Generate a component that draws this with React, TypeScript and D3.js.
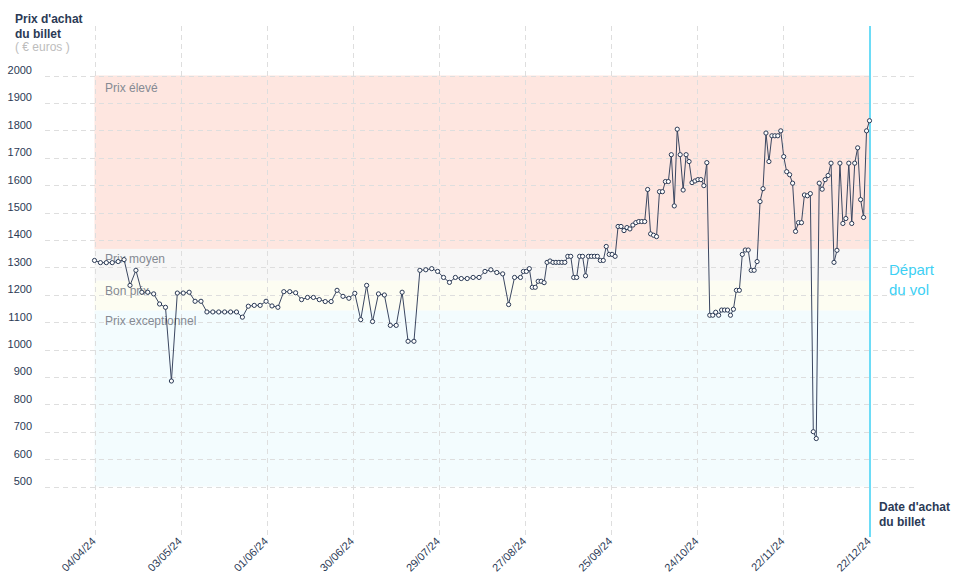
import React from 'react';
import * as d3 from 'd3';

const dates: string[] = [
  '2024-04-04','2024-04-06','2024-04-08','2024-04-10','2024-04-12','2024-04-14','2024-04-16','2024-04-18','2024-04-20','2024-04-22',
  '2024-04-24','2024-04-26','2024-04-28','2024-04-30','2024-05-02','2024-05-04','2024-05-06','2024-05-08','2024-05-10','2024-05-12',
  '2024-05-14','2024-05-16','2024-05-18','2024-05-20','2024-05-22','2024-05-24','2024-05-26','2024-05-28','2024-05-30','2024-06-01',
  '2024-06-03','2024-06-05','2024-06-07','2024-06-09','2024-06-11','2024-06-13','2024-06-15','2024-06-17','2024-06-19','2024-06-21',
  '2024-06-23','2024-06-25','2024-06-27','2024-06-29','2024-07-01','2024-07-03','2024-07-05','2024-07-07','2024-07-09','2024-07-11',
  '2024-07-13','2024-07-15','2024-07-17','2024-07-19','2024-07-21','2024-07-23','2024-07-25','2024-07-27','2024-07-29','2024-07-31',
  '2024-08-02','2024-08-04','2024-08-06','2024-08-08','2024-08-10','2024-08-12','2024-08-14','2024-08-16','2024-08-18','2024-08-20',
  '2024-08-22','2024-08-24','2024-08-26',
  '2024-08-27','2024-08-28','2024-08-29','2024-08-30','2024-08-31',
  '2024-09-01','2024-09-02','2024-09-03','2024-09-04','2024-09-05','2024-09-06','2024-09-07','2024-09-08','2024-09-09','2024-09-10',
  '2024-09-11','2024-09-12','2024-09-13','2024-09-14','2024-09-15','2024-09-16','2024-09-17','2024-09-18','2024-09-19','2024-09-20',
  '2024-09-21','2024-09-22','2024-09-23','2024-09-24','2024-09-25','2024-09-26','2024-09-27','2024-09-28','2024-09-29','2024-09-30',
  '2024-10-01','2024-10-02','2024-10-03','2024-10-04','2024-10-05','2024-10-06','2024-10-07','2024-10-08','2024-10-09','2024-10-10',
  '2024-10-11','2024-10-12','2024-10-13','2024-10-14','2024-10-15','2024-10-16','2024-10-17','2024-10-18','2024-10-19','2024-10-20',
  '2024-10-21','2024-10-22','2024-10-23','2024-10-24','2024-10-25','2024-10-26','2024-10-27','2024-10-28','2024-10-29','2024-10-30',
  '2024-10-31','2024-11-01','2024-11-02','2024-11-03','2024-11-04','2024-11-05','2024-11-06','2024-11-07','2024-11-08','2024-11-09',
  '2024-11-10','2024-11-11','2024-11-12','2024-11-13','2024-11-14','2024-11-15','2024-11-16','2024-11-17','2024-11-18','2024-11-19',
  '2024-11-20','2024-11-21','2024-11-22','2024-11-23','2024-11-24','2024-11-25','2024-11-26','2024-11-27','2024-11-28','2024-11-29',
  '2024-11-30','2024-12-01','2024-12-02','2024-12-03','2024-12-04','2024-12-05','2024-12-06','2024-12-07','2024-12-08','2024-12-09',
  '2024-12-10','2024-12-11','2024-12-12','2024-12-13','2024-12-14','2024-12-15','2024-12-16','2024-12-17','2024-12-18','2024-12-19',
  '2024-12-20','2024-12-21','2024-12-22',
];

const prices: number[] = [
  1325,1317,1317,1317,1321,1328,1234,1289,1209,1209,
  1203,1166,1154,885,1206,1206,1209,1176,1176,1137,
  1137,1137,1137,1137,1137,1118,1158,1161,1161,1176,
  1159,1154,1211,1211,1207,1182,1190,1190,1182,1175,
  1175,1216,1194,1187,1205,1109,1234,1102,1203,1199,
  1088,1088,1209,1030,1030,1289,1291,1295,1285,1263,
  1245,1263,1259,1259,1263,1263,1285,1291,1281,1276,
  1164,1263,1263,
  1285,1285,1295,1227,1227,
  1249,1249,1244,1318,1323,1318,1318,1318,1318,1318,
  1340,1340,1263,1263,1340,1340,1269,1340,1340,1340,
  1340,1325,1325,1376,1347,1347,1340,1449,1449,1434,
  1445,1440,1454,1463,1467,1467,1467,1584,1422,1417,
  1412,1576,1576,1613,1613,1711,1524,1804,1711,1582,
  1711,1686,1609,1615,1620,1620,1598,1682,1125,1125,
  1136,1125,1144,1144,1144,1125,1147,1216,1216,1347,
  1363,1363,1289,1289,1321,1540,1587,1790,1686,1780,
  1780,1780,1798,1704,1649,1638,1607,1431,1463,1463,
  1564,1561,1569,700,675,1607,1585,1620,1635,1680,
  1318,1362,1680,1460,1478,1680,1460,1680,1736,1547,
  1482,1798,1835,
];

const yTicks: number[] = [500, 600, 700, 800, 900, 1000, 1100, 1200, 1300, 1400, 1500, 1600, 1700, 1800, 1900, 2000];
const xTickLabels: string[] = ['04/04/24', '03/05/24', '01/06/24', '30/06/24', '29/07/24', '27/08/24', '25/09/24', '24/10/24', '22/11/24', '22/12/24'];

const bandNames: string[] = ['Prix élevé', 'Prix moyen', 'Bon prix', 'Prix exceptionnel'];
const bandUpper: number[] = [2000, 1367, 1251, 1142];
const bandLower: number[] = [1367, 1251, 1142, 500];
const bandColors: string[] = ['#fee6e0', '#f7f7f7', '#fdfdf2', '#f3fcfe'];

const NAVY = '#2b3a55';
const CYAN = '#3dd0f4';
const FONT = '"Liberation Sans", Arial, Helvetica, sans-serif';

export default function App() {
  const W = 958;
  const H = 585;
  const parse = d3.timeParse('%Y-%m-%d');
  const start = parse('2024-04-04') as Date;
  const end = parse('2024-12-22') as Date;
  const x = d3.scaleTime().domain([start, end]).range([94.5, 869.5]);
  const y = d3.scaleLinear().domain([500, 2000]).range([486.5, 75.5]);

  const pts = dates.map((d, i) => ({ d: parse(d) as Date, v: prices[i] }));
  const line = d3
    .line<{ d: Date; v: number }>()
    .x((p) => x(p.d))
    .y((p) => y(p.v));

  const n = xTickLabels.length - 1;
  const tickDates = xTickLabels.map((_, i) => new Date(+start + (i * (+end - +start)) / n));

  const x0 = x(start);
  const x1 = x(end);

  return (
    <svg
      width={W}
      height={H}
      style={{ position: 'absolute', left: 0, top: 0, fontFamily: FONT }}
    >
      <rect x={0} y={0} width={W} height={H} fill="#ffffff" />
      {/* bands */}
      {bandNames.map((name, i) => (
        <rect
          key={name}
          x={x0}
          y={y(bandUpper[i])}
          width={x1 - x0}
          height={y(bandLower[i]) - y(bandUpper[i])}
          fill={bandColors[i]}
        />
      ))}
      {/* horizontal grid */}
      {yTicks.map((t) => (
        <line
          key={'h' + t}
          x1={45}
          x2={918}
          y1={Math.round(y(t)) + 0.5}
          y2={Math.round(y(t)) + 0.5}
          stroke="#dedede"
          strokeWidth={1}
          strokeDasharray="5,4"
        />
      ))}
      {/* vertical grid */}
      {tickDates.slice(0, n).map((d, i) => (
        <line
          key={'v' + i}
          x1={Math.round(x(d)) + 0.5}
          x2={Math.round(x(d)) + 0.5}
          y1={26}
          y2={537}
          stroke="#dedede"
          strokeWidth={1}
          strokeDasharray="5,4"
        />
      ))}
      {/* band labels */}
      {bandNames.map((name, i) => (
        <text
          key={'l' + name}
          x={105}
          y={y(bandUpper[i]) + (i === 0 ? 16 : 14)}
          fontSize={12}
          fill="#858a93"
        >
          {name}
        </text>
      ))}
      {/* y tick labels */}
      {yTicks.map((t) => (
        <text key={'yt' + t} x={32} y={y(t) - 1.5} fontSize={11} fill={NAVY} textAnchor="end">
          {t}
        </text>
      ))}
      {/* x tick labels */}
      {tickDates.map((d, i) => (
        <text
          key={'xt' + i}
          transform={`translate(${x(d) + 2},${542}) rotate(-45)`}
          fontSize={11}
          fill={NAVY}
          textAnchor="end"
        >
          {xTickLabels[i]}
        </text>
      ))}
      {/* departure line */}
      <line x1={Math.round(x1)} x2={Math.round(x1)} y1={26} y2={537} stroke={CYAN} strokeWidth={1.5} />
      <text x={889} y={275} fontSize={15} fill={CYAN}>Départ</text>
      <text x={889} y={295} fontSize={15} fill={CYAN}>du vol</text>
      {/* data line */}
      <path d={line(pts) || ''} fill="none" stroke="#3b4761" strokeWidth={1} />
      {pts.map((p, i) => (
        <circle key={'c' + i} cx={x(p.d)} cy={y(p.v)} r={2.1} fill="#ffffff" stroke="#2b3a55" strokeWidth={1} />
      ))}
      {/* axis titles */}
      <text x={15} y={23} fontSize={12} fontWeight="bold" fill={NAVY}>Prix d'achat</text>
      <text x={15} y={38} fontSize={12} fontWeight="bold" fill={NAVY}>du billet</text>
      <text x={15} y={51} fontSize={12} fill="#bdbdbd">( € euros )</text>
      <text x={879} y={511} fontSize={12} fontWeight="bold" fill={NAVY}>Date d'achat</text>
      <text x={879} y={526} fontSize={12} fontWeight="bold" fill={NAVY}>du billet</text>
    </svg>
  );
}
